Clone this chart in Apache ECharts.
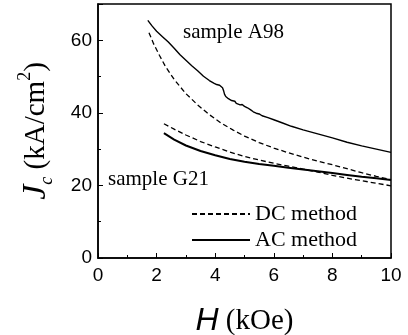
<!DOCTYPE html>
<html>
<head>
<meta charset="utf-8">
<script src="https://cdn.jsdelivr.net/npm/echarts@6/dist/echarts.min.js"></script>
<style>
  html, body { margin: 0; padding: 0; background: #fff; }
  #chart { width: 408px; height: 335px; }
</style>
</head>
<body>
<div id="chart"></div>
<script>
// H (kOe), Jc (kA/cm^2)
const a98Ac = [
  [1.70, 65.5], [1.85, 63.9], [2.0, 62.5], [2.2, 61.0], [2.4, 59.5], [2.6, 57.8],
  [2.8, 56.0], [3.0, 54.5], [3.2, 53.0], [3.4, 51.6], [3.6, 50.1], [3.8, 48.9],
  [3.95, 48.2], [4.05, 47.8], [4.1, 48.0], [4.15, 47.6], [4.2, 47.5], [4.25, 46.9],
  [4.29, 46.0], [4.32, 45.1], [4.36, 44.5], [4.4, 44.6], [4.45, 43.9], [4.5, 44.0],
  [4.56, 43.4], [4.62, 43.1], [4.67, 43.2], [4.72, 42.6], [4.78, 42.7], [4.85, 42.2],
  [4.92, 42.3], [5.0, 41.8], [5.1, 41.4], [5.2, 40.9], [5.3, 40.3], [5.4, 39.9],
  [5.5, 39.7], [5.6, 39.2], [5.8, 38.7], [6.0, 38.1], [6.3, 37.2], [6.6, 36.3],
  [7.0, 35.3], [7.5, 34.2], [8.0, 33.1], [8.5, 31.9], [9.0, 30.9], [9.5, 30.0], [10.0, 29.1]
]
const a98Dc = [
  [1.74, 62.1], [1.9, 59.0], [2.1, 55.8], [2.3, 52.8], [2.6, 49.2], [3.0, 45.3],
  [3.4, 42.2], [3.8, 39.5], [4.2, 37.2], [4.6, 35.3], [5.0, 33.6], [5.5, 31.8],
  [6.0, 30.3], [6.5, 29.0], [7.0, 27.8], [7.5, 26.7], [8.0, 25.7], [8.5, 24.6],
  [9.0, 23.5], [9.5, 22.5], [10.0, 21.6]
]
const g21Dc = [
  [2.25, 37.0], [2.6, 35.5], [3.0, 33.9], [3.5, 32.1], [4.0, 30.6], [4.5, 29.2],
  [5.0, 28.0], [5.5, 27.0], [6.0, 26.1], [6.5, 25.3], [7.0, 24.5], [7.5, 23.7],
  [8.0, 22.8], [8.5, 22.0], [9.0, 21.3], [9.5, 20.6], [10.0, 19.9]
]
const g21Ac = [
  [2.25, 34.4], [2.6, 32.6], [3.0, 31.0], [3.5, 29.5], [4.0, 28.3], [4.5, 27.3],
  [5.0, 26.5], [5.5, 25.9], [6.0, 25.4], [6.5, 24.9], [7.0, 24.4], [7.5, 23.9],
  [8.0, 23.4], [8.5, 22.9], [9.0, 22.4], [9.5, 22.0], [10.0, 21.5]
]
const methodNames = ['DC method', 'AC method']
const sampleLabels = ['sample A98', 'sample G21']

const serif = '"Liberation Serif", "DejaVu Serif", serif'
const sans = '"Liberation Sans", Arial, sans-serif'

const chart = echarts.init(document.getElementById('chart'))

const lineSeries = (name, data, dashed, width) => ({
  name: name,
  type: 'line',
  data: data,
  symbol: 'none',
  smooth: false,
  animation: false,
  lineStyle: { color: '#000', width: width, type: dashed ? [5, 3] : 'solid' },
  itemStyle: { color: '#000' }
})

chart.setOption({
  backgroundColor: '#fff',
  animation: false,
  grid: {
    left: 98, right: 17, top: 4, bottom: 77,
    outerBoundsMode: 'none',
    containLabel: false,
    show: true, borderColor: '#000', borderWidth: 1.5, backgroundColor: 'transparent'
  },
  legend: {
    data: methodNames,
    orient: 'vertical',
    left: 186, top: 198,
    itemWidth: 58, itemHeight: 12, itemGap: 4,
    itemStyle: { opacity: 0 },
    selectedMode: false,
    textStyle: { fontFamily: serif, fontSize: 22, color: '#000' }
  },
  xAxis: {
    type: 'value', min: 0, max: 10, interval: 2,
    axisLine: { lineStyle: { color: '#000', width: 1.5 } },
    axisTick: { inside: true, length: 5, lineStyle: { color: '#000' } },
    minorTick: { show: true, splitNumber: 2, length: 3, lineStyle: { color: '#000' } },
    splitLine: { show: false },
    axisLabel: { color: '#000', fontFamily: sans, fontSize: 19, margin: 8 },
    name: '{h|H}{t| (kOe)}',
    nameLocation: 'middle',
    nameGap: 47,
    nameTextStyle: {
      rich: {
        h: { fontFamily: sans, fontStyle: 'italic', fontSize: 32, color: '#000' },
        t: { fontFamily: serif, fontSize: 29, color: '#000' }
      }
    }
  },
  yAxis: {
    type: 'value', min: 0, max: 70, interval: 20,
    axisLine: { lineStyle: { color: '#000', width: 1.5 } },
    axisTick: { inside: true, length: 5, lineStyle: { color: '#000' } },
    minorTick: { show: true, splitNumber: 2, length: 3, lineStyle: { color: '#000' } },
    splitLine: { show: false },
    axisLabel: {
      color: '#000', fontFamily: sans, fontSize: 19, margin: 6,
      showMaxLabel: false,
      formatter: v => (v % 20 === 0 ? String(v) : '')
    },
    name: '{j|J}{c|c}{t| (kA/cm}{s|2}{t|)}',
    nameLocation: 'middle',
    nameGap: 42,
    nameTextStyle: {
      rich: {
        j: { fontFamily: serif, fontStyle: 'italic', fontSize: 34, color: '#000', lineHeight: 40, verticalAlign: 'middle' },
        c: { fontFamily: serif, fontStyle: 'italic', fontSize: 18, color: '#000', lineHeight: 40, verticalAlign: 'bottom' },
        t: { fontFamily: serif, fontSize: 29, color: '#000', lineHeight: 40, verticalAlign: 'middle' },
        s: { fontFamily: serif, fontSize: 18, color: '#000', lineHeight: 40, verticalAlign: 'top' }
      }
    }
  },
  graphic: [
    { type: 'text', left: 183, top: 22, style: { text: sampleLabels[0], font: '21px ' + serif, fill: '#000' } },
    { type: 'text', left: 108, top: 169, style: { text: sampleLabels[1], font: '21px ' + serif, fill: '#000' } }
  ],
  series: [
    lineSeries(methodNames[0], a98Dc, true, 1.3),
    lineSeries(methodNames[1], a98Ac, false, 1.4),
    lineSeries(methodNames[0], g21Dc, true, 1.3),
    lineSeries(methodNames[1], g21Ac, false, 2)
  ]
})
</script>
</body>
</html>
